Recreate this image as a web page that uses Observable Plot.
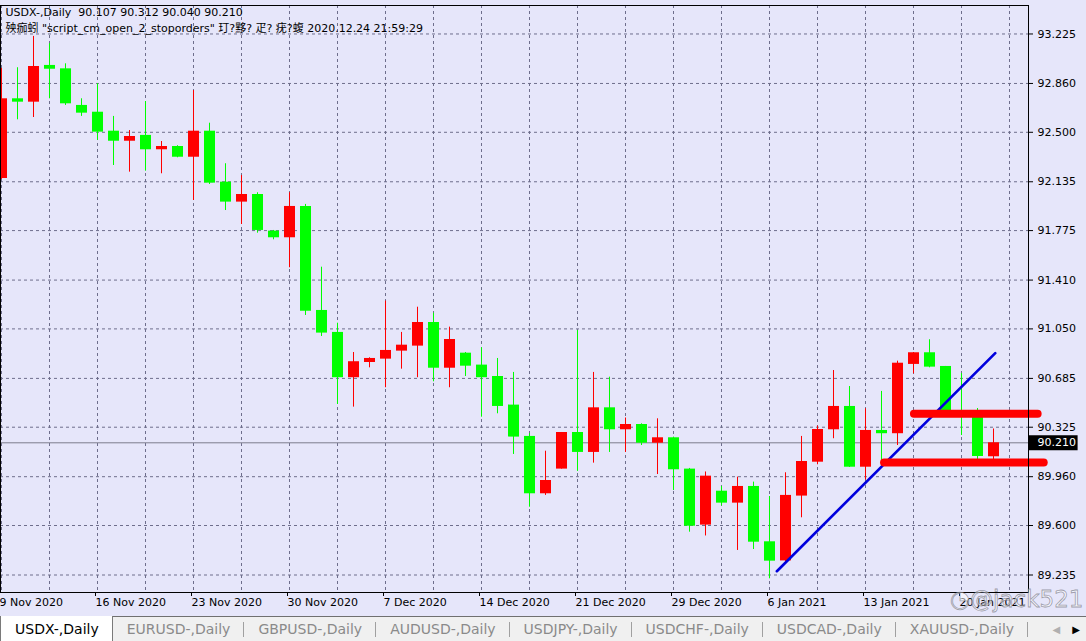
<!DOCTYPE html>
<html>
<head>
<meta charset="utf-8">
<script src="https://cdn.jsdelivr.net/npm/d3@7"></script>
<script src="https://cdn.jsdelivr.net/npm/@observablehq/plot@0.6"></script>
<style>
  html, body { margin: 0; padding: 0; }
  body { width: 1086px; height: 641px; overflow: hidden; background: #e6e6fa; position: relative;
         font-family: "DejaVu Sans", "Noto Sans CJK SC", sans-serif; }
  #chart svg { display: block; }
  #tabs { position: absolute; left: 0; top: 616px; width: 1086px; height: 25px; box-sizing: border-box;
          background: #f0f0f0; border-top: 1px solid #707070; display: flex; align-items: stretch;
          font-size: 14px; color: #8a8a8a; }
  .tab { padding: 0 14px; display: flex; align-items: center; position: relative; white-space: nowrap; }
  .tab.sep::after { content: ""; position: absolute; right: 0; top: 5px; height: 15px; border-right: 1px solid #a0a0a0; }
  .tab.active { background: #ffffff; color: #000; border-left: 1px solid #7a7a7a; border-right: 1px solid #7a7a7a;
                padding: 0 13px 0 14px; margin-top: -1px; }
  #arrows { position: absolute; right: 0; top: 0; height: 24px; display: flex; align-items: center; gap: 12px;
            padding-right: 6px; font-size: 10px; }
  #wm { position: absolute; left: 950px; top: 586px; font-size: 23px; color: rgba(255,255,255,0.55);
        -webkit-text-stroke: 0.8px rgba(110,110,120,0.65); letter-spacing: 0px; white-space: nowrap; }
</style>
</head>
<body>
<div id="chart"></div>
<div id="tabs"></div>
<div id="wm">◔@jack521</div>
<script>
const symbol = "USDX-";
const timeframe = "Daily";
const dates = [
  "2020-11-09","2020-11-10","2020-11-11","2020-11-12","2020-11-13","2020-11-15",
  "2020-11-16","2020-11-17","2020-11-18","2020-11-19","2020-11-20","2020-11-22",
  "2020-11-23","2020-11-24","2020-11-25","2020-11-26","2020-11-27","2020-11-29",
  "2020-11-30","2020-12-01","2020-12-02","2020-12-03","2020-12-04","2020-12-06",
  "2020-12-07","2020-12-08","2020-12-09","2020-12-10","2020-12-11","2020-12-13",
  "2020-12-14","2020-12-15","2020-12-16","2020-12-17","2020-12-18","2020-12-20",
  "2020-12-21","2020-12-22","2020-12-23","2020-12-24","2020-12-27","2020-12-28",
  "2020-12-29","2020-12-30","2020-12-31","2021-01-03","2021-01-04","2021-01-05",
  "2021-01-06","2021-01-07","2021-01-08","2021-01-10","2021-01-11","2021-01-12",
  "2021-01-13","2021-01-14","2021-01-15","2021-01-17","2021-01-18","2021-01-19",
  "2021-01-20","2021-01-21","2021-01-22"
];
const open = [
  92.159,92.747,92.722,92.993,92.968,92.698,
  92.648,92.508,92.434,92.477,92.371,92.395,
  92.316,92.508,92.132,91.985,92.041,91.771,
  91.722,91.953,91.186,91.024,90.690,90.802,
  90.827,90.886,90.923,91.097,90.760,90.871,
  90.783,90.699,90.488,90.257,89.834,90.016,
  90.286,90.139,90.468,90.306,90.345,90.207,
  90.247,90.016,89.603,89.853,89.765,89.888,
  89.480,89.339,89.817,90.067,90.306,90.478,
  90.030,90.301,90.277,90.788,90.874,90.773,
  90.441,90.404,90.107
];
const high = [
  92.971,92.976,93.207,93.153,93.005,92.747,
  92.858,92.617,92.513,92.727,92.432,92.401,
  92.808,92.567,92.268,92.181,92.054,91.776,
  92.054,91.968,91.505,91.092,90.876,90.837,
  91.255,91.024,91.210,91.166,91.063,90.876,
  90.911,90.832,90.729,90.277,90.148,90.286,
  91.038,90.729,90.694,90.393,90.350,90.387,
  90.252,90.021,89.995,89.888,89.957,89.920,
  89.814,89.989,90.257,90.333,90.743,90.625,
  90.461,90.589,90.812,90.876,90.970,90.773,
  90.721,90.463,90.312
];
const low = [
  92.152,92.592,92.609,92.747,92.698,92.617,
  92.440,92.255,92.206,92.213,92.194,92.312,
  91.997,92.115,91.923,91.820,91.756,91.707,
  91.501,91.149,90.994,90.493,90.473,90.763,
  90.616,90.753,90.690,90.660,90.616,90.699,
  90.399,90.424,90.124,89.735,89.822,90.016,
  89.999,90.060,90.139,90.139,90.190,89.976,
  89.858,89.551,89.523,89.744,89.416,89.423,
  89.207,89.328,89.657,90.048,90.240,90.028,
  89.937,90.030,90.190,90.719,90.763,90.412,
  90.264,90.080,90.040
];
const close = [
  92.747,92.722,92.985,92.965,92.710,92.641,
  92.501,92.434,92.469,92.371,92.395,92.316,
  92.508,92.125,91.985,92.041,91.776,91.722,
  91.953,91.181,91.019,90.690,90.808,90.832,
  90.891,90.930,91.097,90.760,90.972,90.775,
  90.690,90.478,90.252,89.834,89.932,90.286,
  90.139,90.468,90.306,90.345,90.207,90.247,
  90.011,89.595,89.964,89.765,89.888,89.477,
  89.337,89.822,90.072,90.308,90.478,90.030,
  90.301,90.277,90.797,90.874,90.768,90.448,
  90.419,90.109,90.210
];
const priceTicks = [93.225, 92.860, 92.500, 92.135, 91.775, 91.410, 91.050, 90.685, 90.325, 89.960, 89.600, 89.235];
// drawn objects (bar index, price)
const trendLine = [{bar: 48.46, price: 89.263}, {bar: 62.11, price: 90.871}];
const levels = [{from: 57.06, to: 64.79, price: 90.424}, {from: 55.19, to: 65.17, price: 90.065}];
const tabNames = ["USDX-,Daily","EURUSD-,Daily","GBPUSD-,Daily","AUDUSD-,Daily","USDJPY-,Daily","USDCHF-,Daily","USDCAD-,Daily","XAUUSD-,Daily"];
const scriptLine = "殃痂蚓 \"script_cm_open_2_stoporders\" 玎?黟? 疋? 疣?蝮 2020.12.24 21:59:29";

const candles = dates.map((d, i) => ({i, date: new Date(d), open: open[i], high: high[i], low: low[i], close: close[i]}));
const last = candles[candles.length - 1];
const f3 = d3.format(".3f");
const header = `${symbol},${timeframe}  ${f3(last.open)} ${f3(last.high)} ${f3(last.low)} ${f3(last.close)}`;
const dateFmt = d3.utcFormat("%-d %b %Y");

const xDomain = [-0.0625, 64.1875];
const gridColor = "#6e6e8c";
const up = d => d.close >= d.open;
const down = d => d.close < d.open;

const chart = Plot.plot({
  width: 1086,
  height: 616,
  marginTop: 5,
  marginBottom: 24,
  marginLeft: 0,
  marginRight: 58,
  x: {domain: xDomain},
  y: {domain: [89.106, 93.435]},
  style: {background: "#e6e6fa", fontFamily: "'DejaVu Sans','Noto Sans CJK SC',sans-serif", fontSize: "11px", overflow: "visible", color: "#000"},
  marks: [
    Plot.gridX(d3.range(0, 64, 3), {stroke: gridColor, strokeOpacity: 1, strokeDasharray: "3,3"}),
    Plot.gridY(priceTicks, {stroke: gridColor, strokeOpacity: 1, strokeDasharray: "3,3"}),
    Plot.ruleY([last.close], {stroke: "#7c7c8c", strokeWidth: 1}),
    Plot.ruleX(candles, {filter: up, x: "i", y1: "low", y2: "high", stroke: "#ff0000", strokeWidth: 1}),
    Plot.ruleX(candles, {filter: down, x: "i", y1: "low", y2: "high", stroke: "#00ff00", strokeWidth: 1}),
    Plot.ruleX(candles, {filter: up, x: "i", y1: "open", y2: "close", stroke: "#ff0000", strokeWidth: 11}),
    Plot.ruleX(candles, {filter: down, x: "i", y1: "open", y2: "close", stroke: "#00ff00", strokeWidth: 11}),
    Plot.line(trendLine, {x: "bar", y: "price", stroke: "#0000dd", strokeWidth: 2.6}),
    Plot.ruleY(levels, {x1: "from", x2: "to", y: "price", stroke: "#ff0000", strokeWidth: 8, strokeLinecap: "round", clip: false}),
    Plot.frame({stroke: "#000", strokeWidth: 1}),
    Plot.axisY(priceTicks, {anchor: "right", tickSize: 4, tickPadding: 5, tickFormat: f3, label: null, fontSize: 11, fill: "#000"}),
    Plot.axisX(d3.range(0, dates.length, 6), {anchor: "bottom", tickSize: 4, tickPadding: 2, label: null, fontSize: 11,
      tickFormat: i => dateFmt(candles[i].date), textAnchor: "start", dx: -2, fill: "#000"}),
    Plot.ruleY([last.close], {x1: xDomain[1], x2: xDomain[1] + 3.1, stroke: "#000", strokeWidth: 15, clip: false}),
    Plot.text([last.close], {x: xDomain[1], y: d => d, text: f3, dx: 9, textAnchor: "start", fill: "#fff", fontSize: 11, clip: false}),
    Plot.text([header], {frameAnchor: "top-left", text: d => d, dx: 5, dy: 3, lineAnchor: "top", fontSize: 11, fill: "#000"}),
    Plot.text([scriptLine], {frameAnchor: "top-left", text: d => d, dx: 5, dy: 19, lineAnchor: "top", fontSize: 11, fill: "#000"})
  ]
});
document.getElementById("chart").appendChild(chart);

const tabs = document.getElementById("tabs");
tabNames.forEach((name, k) => {
  const t = document.createElement("div");
  t.className = "tab" + (k === 0 ? " active" : " sep");
  t.textContent = name;
  tabs.appendChild(t);
});
const arrows = document.createElement("div");
arrows.id = "arrows";
arrows.innerHTML = '<span style="color:#b0b0b0">◀</span><span style="color:#000">▶</span>';
tabs.appendChild(arrows);
</script>
</body>
</html>
